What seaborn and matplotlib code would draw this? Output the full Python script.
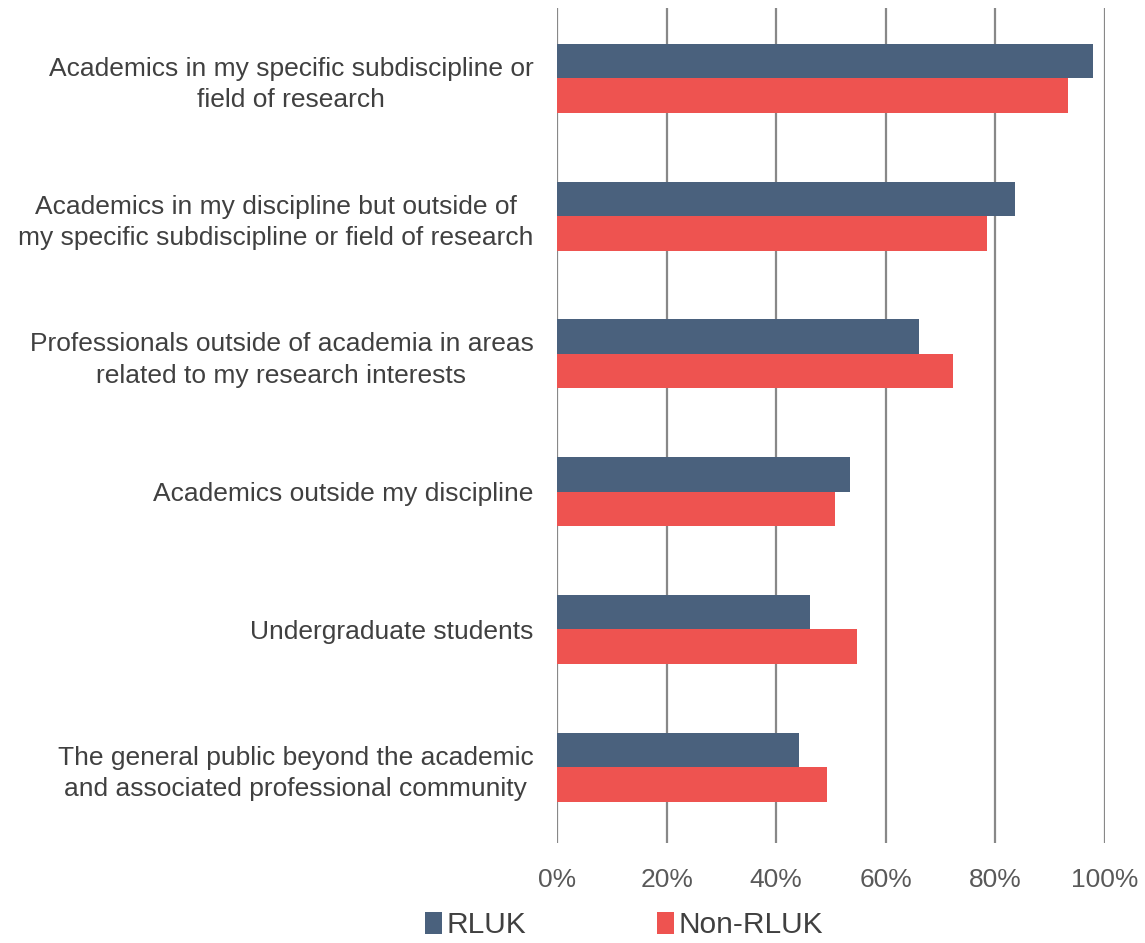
import matplotlib
matplotlib.use("Agg")
import matplotlib.pyplot as plt
import seaborn as sns
import pandas as pd
from matplotlib.patches import Patch

categories = [
    "Academics in my specific subdiscipline or\nfield of research",
    "Academics in my discipline but outside of\nmy specific subdiscipline or field of research",
    "Professionals outside of academia in areas\nrelated to my research interests",
    "Academics outside my discipline",
    "Undergraduate students",
    "The general public beyond the academic\nand associated professional community",
]
rluk = [97.8, 83.6, 66.1, 53.4, 46.2, 44.1]
non_rluk = [93.2, 78.5, 72.2, 50.8, 54.8, 49.2]
series = ["RLUK", "Non-RLUK"]
colors = ["#4A617D", "#EE5350"]
xticks = [0, 20, 40, 60, 80, 100]
xticklabels = ["0%", "20%", "40%", "60%", "80%", "100%"]

df = pd.DataFrame({
    "category": categories * 2,
    "value": rluk + non_rluk,
    "series": [series[0]] * len(categories) + [series[1]] * len(categories),
})

sns.set_style("white")
plt.rcParams["font.family"] = ["Liberation Sans", "DejaVu Sans"]

fig = plt.figure(figsize=(11.45, 9.43), dpi=100)
ax = fig.add_axes([0.4865, 0.106, 0.9651 - 0.4865, 0.9915 - 0.106])

sns.barplot(data=df, y="category", x="value", hue="series", palette=colors,
            order=categories, hue_order=series, orient="h", width=0.5,
            saturation=1, ax=ax, legend=False, linewidth=0, edgecolor="none",
            zorder=3)

ax.set_xlim(0, 100)
ax.set_ylim(5.55, -0.51)
ax.set_xticks(xticks)
ax.set_xticklabels(xticklabels, fontsize=19, color="#595959")
ax.tick_params(axis="x", length=0, pad=18)
ax.tick_params(axis="y", length=0, pad=17)
for lbl in ax.get_yticklabels():
    lbl.set_fontsize(19)
    lbl.set_color("#404040")
    lbl.set_multialignment("center")
    lbl.set_linespacing(1.4)
ax.set_xlabel("")
ax.set_ylabel("")
for s in ax.spines.values():
    s.set_visible(False)
ax.grid(axis="x", color="#888888", linewidth=1.6, zorder=0)
ax.grid(axis="y", visible=False)
ax.set_axisbelow(True)

handles = [Patch(facecolor=c, edgecolor="none") for c in colors]
fig.legend(handles, series, loc="center", bbox_to_anchor=(0.545, 0.019),
           ncol=2, frameon=False, fontsize=21.5, handlelength=0.55, handleheight=0.75,
           handletextpad=0.15, columnspacing=4.4, labelcolor="#404040")

fig.savefig("out.png", dpi=100, facecolor="white")
